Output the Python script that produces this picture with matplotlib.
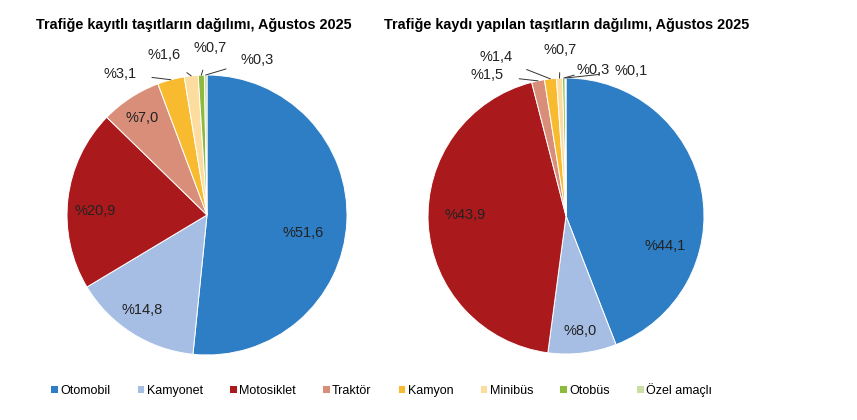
import numpy as np
import matplotlib.pyplot as plt

plt.rcParams['font.family'] = ['Liberation Sans', 'DejaVu Sans']

categories = ["Otomobil", "Kamyonet", "Motosiklet", "Traktör", "Kamyon", "Minibüs", "Otobüs", "Özel amaçlı"]
colors = ["#2E7EC6", "#A6BEE4", "#AA1A1C", "#D98E79", "#F8BA2E", "#FDDC9F", "#8DBA3C", "#CADFA4"]

registered = [51.6, 14.8, 20.9, 7.0, 3.1, 1.6, 0.7, 0.3]
new_reg = [44.1, 8.0, 43.9, 1.5, 1.4, 0.7, 0.3, 0.1]

title_left = "Trafiğe kayıtlı taşıtların dağılımı, Ağustos 2025"
title_right = "Trafiğe kaydı yapılan taşıtların dağılımı, Ağustos 2025"

# label text positions (data coords, pie radius = 1)
left_pos = [(0.69, -0.13), (-0.46, -0.68), (-0.80, 0.03), (-0.46, 0.69),
            (-0.62, 1.01), (-0.31, 1.14), (0.02, 1.19), (0.36, 1.11)]
left_lead = [False, False, False, False, True, True, True, True]
right_pos = [(0.72, -0.22), (0.10, -0.83), (-0.73, 0.01), (-0.57, 1.02),
             (-0.51, 1.15), (-0.04, 1.20), (0.20, 1.06), (0.47, 1.05)]
right_lead = [False, False, False, True, True, True, True, True]


def fmt(v):
    return "%" + f"{v:.1f}".replace(".", ",")


def draw_pie(ax, values, pos, lead):
    wedges, _ = ax.pie(values, colors=colors, startangle=90, counterclock=False,
                       radius=1.0, wedgeprops=dict(edgecolor="white", linewidth=0.7))
    ax.set_xlim(-1, 1)
    ax.set_ylim(-1, 1)
    ax.set_aspect("equal")
    ax.axis("off")
    for w, v, (tx, ty), ld in zip(wedges, values, pos, lead):
        if ld:
            ang = np.deg2rad((w.theta1 + w.theta2) / 2)
            ax.annotate(fmt(v), xy=(np.cos(ang), np.sin(ang)), xytext=(tx, ty),
                        ha="center", va="center", fontsize=10.5, color="#222222",
                        arrowprops=dict(arrowstyle="-", color="#333333", lw=0.7,
                                        shrinkA=9, shrinkB=0),
                        annotation_clip=False)
        else:
            ax.text(tx, ty, fmt(v), ha="center", va="center", fontsize=10.5, color="#222222")
    return wedges


fig = plt.figure(figsize=(8.57, 4.2), dpi=100)
ax1 = fig.add_axes([67 / 857, 65 / 420, 280 / 857, 280 / 420])
ax2 = fig.add_axes([428 / 857, 66 / 420, 276 / 857, 276 / 420])

wedges = draw_pie(ax1, registered, left_pos, left_lead)
draw_pie(ax2, new_reg, right_pos, right_lead)

fig.text(194 / 857, 1 - 25 / 420, title_left, ha="center", va="center",
         fontsize=10.4, fontweight="bold")
fig.text(567 / 857, 1 - 25 / 420, title_right, ha="center", va="center",
         fontsize=10.4, fontweight="bold")

fig.legend(wedges, categories, loc="center", bbox_to_anchor=(0.445, 0.072), ncol=8,
           frameon=False, fontsize=9, handlelength=0.6, handleheight=0.6,
           handletextpad=0.2, columnspacing=2.1)

fig.savefig("out.png", dpi=100)
